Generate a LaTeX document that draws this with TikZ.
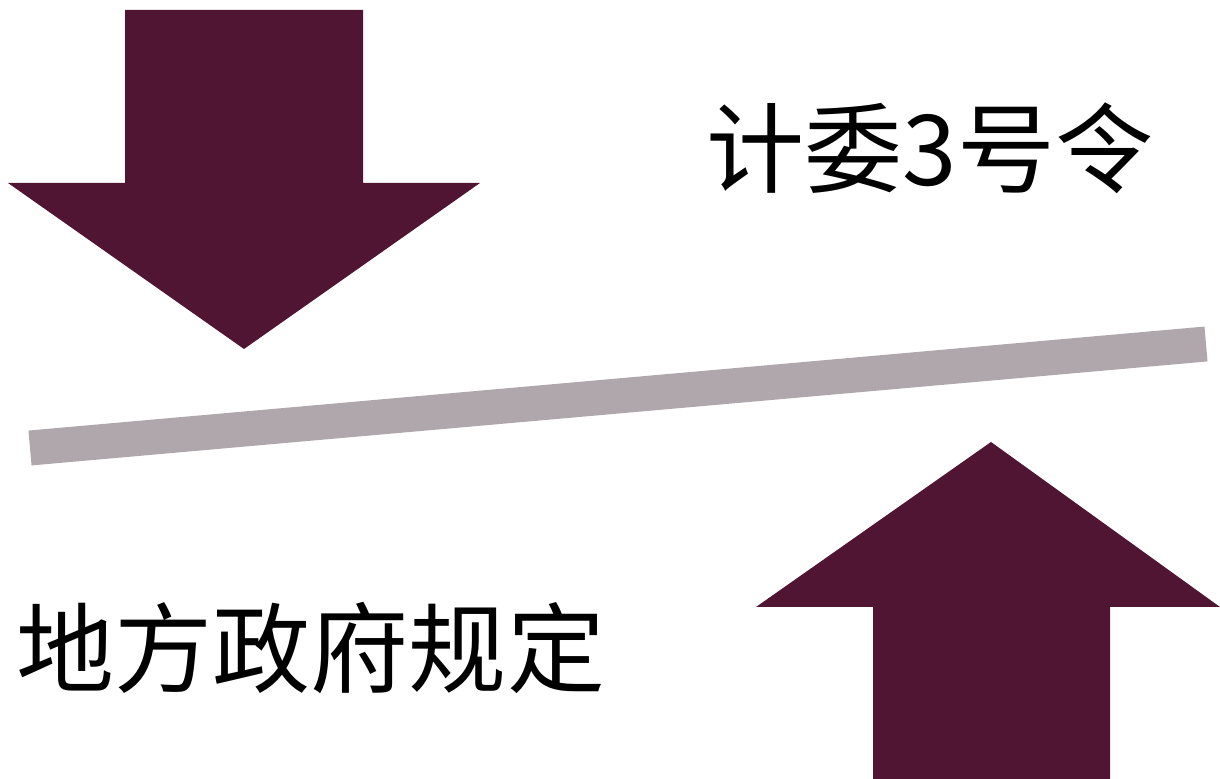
\documentclass[tikz,border=0pt]{standalone}
\usepackage{fontspec}
\newfontfamily\cjk{Noto Sans CJK SC}
\definecolor{arrowred}{HTML}{4F1532}
\definecolor{bargray}{HTML}{B0A7AC}

\begin{document}
\begin{tikzpicture}[x=0.5pt,y=-0.5pt]

\tikzset{ArrowStyle/.style={fill=arrowred,draw=none},
         BarStyle/.style={draw=bargray,line width=17.5pt},
         LabelStyle/.style={font=\cjk\fontsize{49}{58}\selectfont,inner sep=0pt}}

  \useasboundingbox (0,0) rectangle (1220,779);

  % down arrow
  \fill[ArrowStyle] (125,10) -- (363,10) -- (363,183) -- (480,183)
    -- (244,349) -- (8,183) -- (125,183) -- cycle;

  % up arrow
  \fill[ArrowStyle] (873,779) -- (1110,779) -- (1110,607) -- (1220,607)
    -- (991,442) -- (756,607) -- (873,607) -- cycle;

  % balance bar
  \coordinate (bl) at (30,448);
  \coordinate (br) at (1206,344);
  \draw[BarStyle] (bl) -- (br);

  \node[LabelStyle] (top) at (930,148) {计委3号令};
  \node[LabelStyle] (bottom) at (311,648) {地方政府规定};

\end{tikzpicture}
\end{document}
